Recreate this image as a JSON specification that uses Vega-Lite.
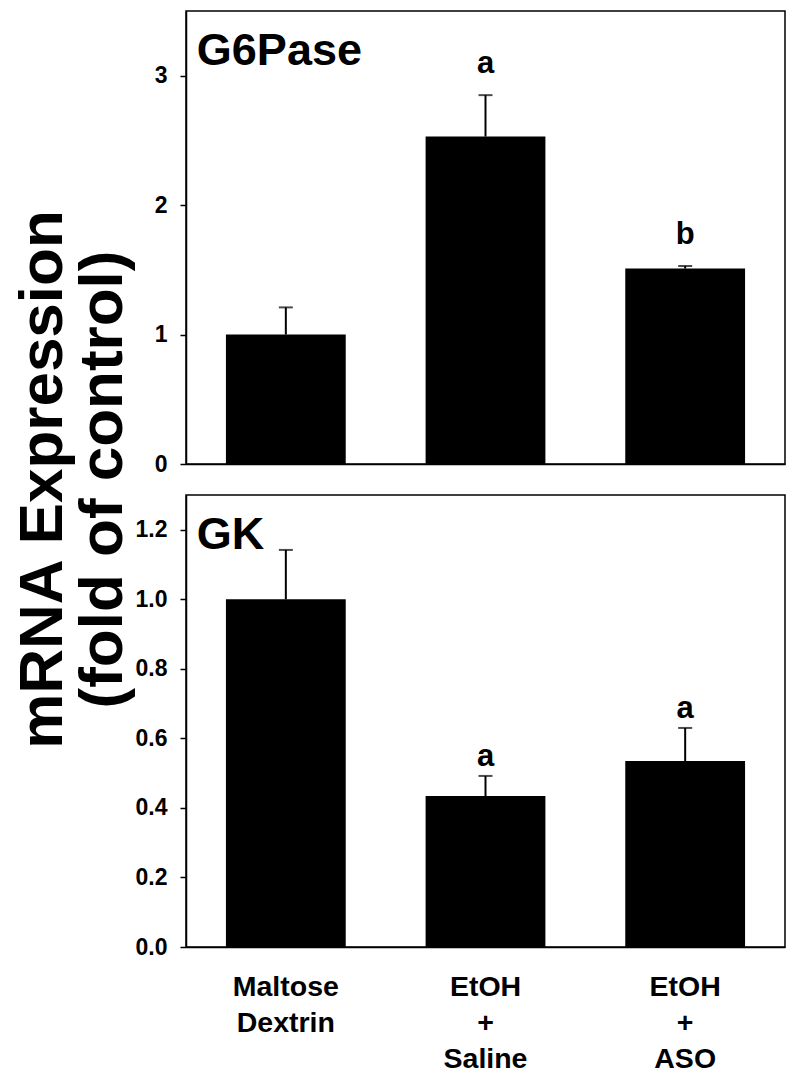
{
  "$schema": "https://vega.github.io/schema/vega-lite/v6.json",
  "background": "white",
  "padding": {"left": 10, "top": 10, "right": 2, "bottom": 2},
  "autosize": {"type": "pad"},
  "bounds": "flush",
  "spacing": 31,
  "config": {
    "font": "Liberation Sans",
    "view": {"stroke": "black", "strokeWidth": 1.5},
    "axis": {
      "grid": false,
      "domainColor": "black",
      "domainWidth": 1.5,
      "tickColor": "black",
      "tickWidth": 1.5,
      "labelColor": "black",
      "labelFontWeight": "bold",
      "titleColor": "black"
    }
  },
  "datasets": {
    "g6pase": [
      {"group": "Maltose Dextrin", "value": 1.0, "upper": 1.21, "sig": ""},
      {"group": "EtOH + Saline", "value": 2.53, "upper": 2.85, "sig": "a"},
      {"group": "EtOH + ASO", "value": 1.51, "upper": 1.53, "sig": "b"}
    ],
    "gk": [
      {"group": "Maltose Dextrin", "value": 1.0, "upper": 1.142, "sig": ""},
      {"group": "EtOH + Saline", "value": 0.434, "upper": 0.492, "sig": "a"},
      {"group": "EtOH + ASO", "value": 0.535, "upper": 0.63, "sig": "a"}
    ]
  },
  "vconcat": [
    {
      "width": 599,
      "height": 453,
      "encoding": {
        "x": {
          "field": "group",
          "type": "nominal",
          "scale": {"domain": ["Maltose Dextrin", "EtOH + Saline", "EtOH + ASO"], "paddingInner": 0.4, "paddingOuter": 0.2},
          "axis": {"labels": false, "ticks": false, "title": null}
        }
      },
      "layer": [
        {
          "data": {"name": "g6pase"},
          "mark": {"type": "bar", "color": "black"},
          "encoding": {
            "y": {
              "field": "value",
              "type": "quantitative",
              "scale": {"domain": [0, 3.5]},
              "axis": {
                "values": [0, 1, 2, 3],
                "format": "d",
                "labelFontSize": 23,
                "tickSize": 6,
                "labelPadding": 13,
                "title": ["mRNA Expression", "(fold of control)"],
                "titleFontSize": 62,
                "titleFontWeight": "bold",
                "titleLineHeight": 60,
                "titleAngle": -90,
                "titleAlign": "center",
                "titleBaseline": "bottom",
                "titleX": -112,
                "titleY": 468
              }
            }
          }
        },
        {
          "data": {"name": "g6pase"},
          "mark": {"type": "rule", "color": "black", "strokeWidth": 2},
          "encoding": {
            "y": {"field": "value", "type": "quantitative"},
            "y2": {"field": "upper"}
          }
        },
        {
          "data": {"name": "g6pase"},
          "mark": {"type": "tick", "color": "black", "thickness": 2, "size": 14},
          "encoding": {"y": {"field": "upper", "type": "quantitative"}}
        },
        {
          "data": {"name": "g6pase"},
          "mark": {"type": "text", "fontSize": 31, "fontWeight": "bold", "baseline": "alphabetic", "dy": -22, "color": "black"},
          "encoding": {
            "y": {"field": "upper", "type": "quantitative"},
            "text": {"field": "sig"}
          }
        },
        {
          "data": {"values": [{"group": "Maltose Dextrin", "pos": 3.19, "name": "G6Pase"}]},
          "mark": {"type": "text", "align": "left", "baseline": "middle", "fontSize": 45, "fontWeight": "bold", "dx": -89, "color": "black"},
          "encoding": {
            "y": {"field": "pos", "type": "quantitative"},
            "text": {"field": "name"}
          }
        }
      ]
    },
    {
      "width": 599,
      "height": 452,
      "encoding": {
        "x": {
          "field": "group",
          "type": "nominal",
          "scale": {"domain": ["Maltose Dextrin", "EtOH + Saline", "EtOH + ASO"], "paddingInner": 0.4, "paddingOuter": 0.2},
          "axis": {
            "title": null,
            "ticks": false,
            "labelAngle": 0,
            "labelFontSize": 28.5,
            "labelLineHeight": 36,
            "labelPadding": 25,
            "labelExpr": "split(datum.label, ' ')"
          }
        }
      },
      "layer": [
        {
          "data": {"name": "gk"},
          "mark": {"type": "bar", "color": "black"},
          "encoding": {
            "y": {
              "field": "value",
              "type": "quantitative",
              "scale": {"domain": [0, 1.3]},
              "axis": {
                "values": [0, 0.2, 0.4, 0.6, 0.8, 1.0, 1.2],
                "format": ".1f",
                "labelFontSize": 23,
                "tickSize": 6,
                "labelPadding": 13,
                "title": null
              }
            }
          }
        },
        {
          "data": {"name": "gk"},
          "mark": {"type": "rule", "color": "black", "strokeWidth": 2},
          "encoding": {
            "y": {"field": "value", "type": "quantitative"},
            "y2": {"field": "upper"}
          }
        },
        {
          "data": {"name": "gk"},
          "mark": {"type": "tick", "color": "black", "thickness": 2, "size": 14},
          "encoding": {"y": {"field": "upper", "type": "quantitative"}}
        },
        {
          "data": {"name": "gk"},
          "mark": {"type": "text", "fontSize": 31, "fontWeight": "bold", "baseline": "alphabetic", "dy": -10, "color": "black"},
          "encoding": {
            "y": {"field": "upper", "type": "quantitative"},
            "text": {"field": "sig"}
          }
        },
        {
          "data": {"values": [{"group": "Maltose Dextrin", "pos": 1.185, "name": "GK"}]},
          "mark": {"type": "text", "align": "left", "baseline": "middle", "fontSize": 45, "fontWeight": "bold", "dx": -89, "color": "black"},
          "encoding": {
            "y": {"field": "pos", "type": "quantitative"},
            "text": {"field": "name"}
          }
        }
      ]
    }
  ]
}
